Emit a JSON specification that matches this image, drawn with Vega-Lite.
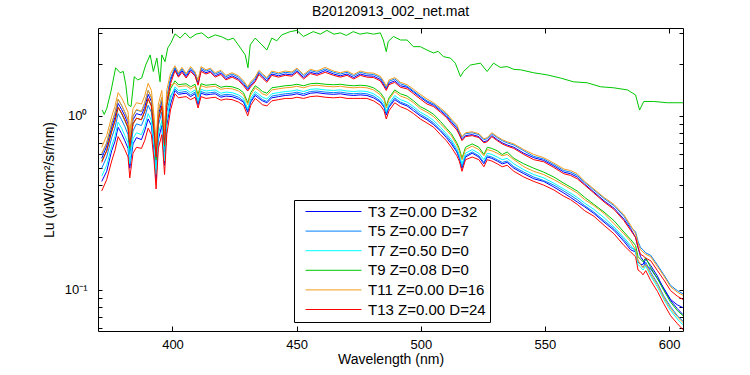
{
"$schema": "https://vega.github.io/schema/vega-lite/v6.json",
"width": 585,
"height": 303,
"autosize": {"type": "none"},
"padding": {"left": 98, "top": 28, "right": 67, "bottom": 44},
"background": "white",
"title": {"text": "B20120913_002_net.mat", "fontSize": 14, "fontWeight": "normal", "font": "Liberation Sans", "color": "black", "offset": 9},
"config": {
  "font": "Liberation Sans",
  "view": {"stroke": "black", "strokeWidth": 1},
  "axis": {"domain": false, "grid": false, "labelColor": "black", "titleColor": "black", "tickColor": "black", "labelFont": "Liberation Sans", "titleFont": "Liberation Sans", "labelFontSize": 13, "titleFontSize": 14, "titleFontWeight": "normal", "tickWidth": 1}
},
"resolve": {"scale": {"x": "independent", "y": "independent"}},
"layer": [
{
"data": {"values": [
{"k":"g0","w":371.7,"v":1.08},{"k":"g0","w":372.5,"v":1.02},{"k":"g0","w":373.5,"v":1.1},{"k":"g0","w":375.2,"v":1.38},{"k":"g0","w":377.1,"v":1.89},{"k":"g0","w":378.9,"v":1.77},{"k":"g0","w":380.2,"v":1.8},{"k":"g0","w":381.2,"v":1.51},{"k":"g0","w":382.1,"v":1.16},{"k":"g0","w":383.3,"v":1.13},{"k":"g0","w":384.6,"v":1.68},{"k":"g0","w":386,"v":1.61},{"k":"g0","w":387.6,"v":1.65},{"k":"g0","w":389.2,"v":1.96},{"k":"g0","w":391,"v":2.24},{"k":"g0","w":392.3,"v":1.8},{"k":"g0","w":393.7,"v":2.15},{"k":"g0","w":395,"v":1.57},{"k":"g0","w":395.7,"v":2.24},{"k":"g0","w":397,"v":2.05},{"k":"g0","w":398.1,"v":2.46},{"k":"g0","w":399.4,"v":2.63},{"k":"g0","w":401,"v":2.96},{"k":"g0","w":403.1,"v":2.8},{"k":"g0","w":405.1,"v":3.0},{"k":"g0","w":407.1,"v":2.8},{"k":"g0","w":409.5,"v":2.95},{"k":"g0","w":411.8,"v":3.0},{"k":"g0","w":414.4,"v":2.8},{"k":"g0","w":417.2,"v":2.92},{"k":"g0","w":419.8,"v":2.85},{"k":"g0","w":422.4,"v":2.73},{"k":"g0","w":424.5,"v":2.8},{"k":"g0","w":426.5,"v":2.56},{"k":"g0","w":429.3,"v":2.24},{"k":"g0","w":430.4,"v":1.89},{"k":"g0","w":431.3,"v":2.56},{"k":"g0","w":433.3,"v":2.8},{"k":"g0","w":436,"v":2.56},{"k":"g0","w":438,"v":2.39},{"k":"g0","w":440,"v":2.8},{"k":"g0","w":442,"v":2.7},{"k":"g0","w":444,"v":2.92},{"k":"g0","w":447.4,"v":3.05},{"k":"g0","w":450.1,"v":3.1},{"k":"g0","w":452.7,"v":2.86},{"k":"g0","w":456.7,"v":3.05},{"k":"g0","w":459.5,"v":2.95},{"k":"g0","w":462.2,"v":3.1},{"k":"g0","w":465,"v":2.95},{"k":"g0","w":467.6,"v":3.0},{"k":"g0","w":470,"v":2.9},{"k":"g0","w":472.8,"v":3.05},{"k":"g0","w":475.5,"v":2.95},{"k":"g0","w":478.3,"v":3.0},{"k":"g0","w":481,"v":2.95},{"k":"g0","w":483.7,"v":3.0},{"k":"g0","w":484.9,"v":2.73},{"k":"g0","w":486.1,"v":2.34},{"k":"g0","w":486.9,"v":2.68},{"k":"g0","w":489,"v":2.86},{"k":"g0","w":491.8,"v":2.73},{"k":"g0","w":494.5,"v":2.73},{"k":"g0","w":497,"v":2.5},{"k":"g0","w":499.8,"v":2.5},{"k":"g0","w":502.5,"v":2.39},{"k":"g0","w":505.1,"v":2.3},{"k":"g0","w":507,"v":2.35},{"k":"g0","w":509.1,"v":2.19},{"k":"g0","w":511.9,"v":2.15},{"k":"g0","w":513.9,"v":2.01},{"k":"g0","w":516,"v":1.68},{"k":"g0","w":517.2,"v":1.8},{"k":"g0","w":520,"v":1.96},{"k":"g0","w":524,"v":2.01},{"k":"g0","w":526.7,"v":1.8},{"k":"g0","w":529.3,"v":2.01},{"k":"g0","w":532,"v":1.9},{"k":"g0","w":534.8,"v":1.92},{"k":"g0","w":537.5,"v":1.85},{"k":"g0","w":540.2,"v":1.84},{"k":"g0","w":545.4,"v":1.77},{"k":"g0","w":550.9,"v":1.72},{"k":"g0","w":556.3,"v":1.65},{"k":"g0","w":561.5,"v":1.57},{"k":"g0","w":567,"v":1.55},{"k":"g0","w":572.4,"v":1.47},{"k":"g0","w":577.7,"v":1.45},{"k":"g0","w":583.2,"v":1.41},{"k":"g0","w":586.5,"v":1.32},{"k":"g0","w":588.1,"v":1.08},{"k":"g0","w":589.8,"v":1.21},{"k":"g0","w":593.8,"v":1.21},{"k":"g0","w":599.3,"v":1.19},{"k":"g0","w":605.6,"v":1.19},

{"k":"b2","w":371.5,"v":0.42},{"k":"b2","w":373.5,"v":0.48},{"k":"b2","w":375.5,"v":0.63},{"k":"b2","w":376.8,"v":0.71},{"k":"b2","w":378.1,"v":0.86},{"k":"b2","w":379.5,"v":0.79},{"k":"b2","w":380.8,"v":0.72},{"k":"b2","w":382.1,"v":0.65},{"k":"b2","w":382.8,"v":0.5},{"k":"b2","w":384.1,"v":0.69},{"k":"b2","w":385.5,"v":0.75},{"k":"b2","w":387.5,"v":0.73},{"k":"b2","w":388.8,"v":0.82},{"k":"b2","w":390.2,"v":0.96},{"k":"b2","w":391.5,"v":0.88},{"k":"b2","w":392.6,"v":0.62},{"k":"b2","w":393.4,"v":0.43},{"k":"b2","w":394.3,"v":0.73},{"k":"b2","w":395.7,"v":0.88},{"k":"b2","w":396.8,"v":0.52},{"k":"b2","w":397.7,"v":0.88},{"k":"b2","w":399.2,"v":1.17},
{"k":"b2","w":401,"v":1.4},{"k":"b2","w":402.4,"v":1.33},{"k":"b2","w":403.8,"v":1.34},{"k":"b2","w":405.5,"v":1.35},{"k":"b2","w":407.3,"v":1.29},{"k":"b2","w":409.1,"v":1.34},{"k":"b2","w":410.3,"v":1.16},{"k":"b2","w":411.5,"v":1.35},{"k":"b2","w":413.5,"v":1.32},{"k":"b2","w":415.3,"v":1.33},{"k":"b2","w":417.2,"v":1.34},{"k":"b2","w":419.5,"v":1.28},{"k":"b2","w":421.5,"v":1.3},{"k":"b2","w":424,"v":1.29},{"k":"b2","w":426.6,"v":1.25},{"k":"b2","w":428.6,"v":1.2},{"k":"b2","w":430.3,"v":1.05},{"k":"b2","w":431.5,"v":1.2},{"k":"b2","w":433.3,"v":1.31},{"k":"b2","w":434.8,"v":1.26},{"k":"b2","w":436.2,"v":1.22},{"k":"b2","w":438,"v":1.19},{"k":"b2","w":440,"v":1.27},{"k":"b2","w":442.7,"v":1.29},{"k":"b2","w":445.4,"v":1.31},{"k":"b2","w":448.1,"v":1.32},{"k":"b2","w":450.1,"v":1.34},{"k":"b2","w":452.8,"v":1.31},{"k":"b2","w":455.5,"v":1.35},{"k":"b2","w":458.2,"v":1.36},{"k":"b2","w":461.5,"v":1.34},{"k":"b2","w":464.9,"v":1.33},{"k":"b2","w":467.6,"v":1.34},{"k":"b2","w":470.3,"v":1.32},{"k":"b2","w":473,"v":1.31},{"k":"b2","w":475.6,"v":1.32},{"k":"b2","w":478.3,"v":1.31},
{"k":"b2","w":481,"v":1.27},{"k":"b2","w":483.7,"v":1.2},{"k":"b2","w":485.2,"v":1.12},{"k":"b2","w":486.1,"v":1.01},{"k":"b2","w":487.2,"v":1.12},{"k":"b2","w":489.5,"v":1.24},{"k":"b2","w":491.8,"v":1.18},{"k":"b2","w":494.5,"v":1.14},{"k":"b2","w":497.1,"v":1.07},{"k":"b2","w":499.8,"v":1.0},{"k":"b2","w":502.5,"v":0.95},{"k":"b2","w":505.2,"v":0.89},{"k":"b2","w":507.9,"v":0.82},{"k":"b2","w":510.3,"v":0.75},{"k":"b2","w":512.3,"v":0.69},{"k":"b2","w":514.5,"v":0.62},{"k":"b2","w":515.5,"v":0.57},{"k":"b2","w":516.6,"v":0.5},{"k":"b2","w":518,"v":0.58},{"k":"b2","w":520.7,"v":0.61},{"k":"b2","w":523.4,"v":0.58},{"k":"b2","w":525.4,"v":0.53},{"k":"b2","w":526.8,"v":0.58},{"k":"b2","w":528.6,"v":0.57},{"k":"b2","w":530.8,"v":0.55},{"k":"b2","w":532.8,"v":0.53},{"k":"b2","w":534.8,"v":0.54},{"k":"b2","w":537.5,"v":0.5},{"k":"b2","w":541.5,"v":0.465},{"k":"b2","w":545.5,"v":0.435},{"k":"b2","w":549.5,"v":0.42},{"k":"b2","w":553.6,"v":0.39},{"k":"b2","w":557.6,"v":0.36},{"k":"b2","w":560.3,"v":0.34},{"k":"b2","w":563,"v":0.32},{"k":"b2","w":566,"v":0.3},{"k":"b2","w":569.7,"v":0.275},{"k":"b2","w":573.8,"v":0.245},{"k":"b2","w":577.8,"v":0.22},{"k":"b2","w":581.8,"v":0.19},{"k":"b2","w":584.5,"v":0.17},
{"k":"b2","w":586.5,"v":0.165},{"k":"b2","w":587.5,"v":0.145},{"k":"b2","w":588.5,"v":0.14},{"k":"b2","w":589.5,"v":0.14},{"k":"b2","w":590.6,"v":0.15},{"k":"b2","w":592.6,"v":0.138},{"k":"b2","w":595.3,"v":0.12},{"k":"b2","w":597.9,"v":0.101},{"k":"b2","w":600.6,"v":0.087},{"k":"b2","w":603.3,"v":0.078},{"k":"b2","w":605.6,"v":0.072},

{"k":"b1","w":371.5,"v":0.57},{"k":"b1","w":373.5,"v":0.67},{"k":"b1","w":375.5,"v":0.86},{"k":"b1","w":376.8,"v":0.98},{"k":"b1","w":378.1,"v":1.18},{"k":"b1","w":379.5,"v":1.09},{"k":"b1","w":380.8,"v":1.0},{"k":"b1","w":382.1,"v":0.9},{"k":"b1","w":382.8,"v":0.7},{"k":"b1","w":384.1,"v":0.95},{"k":"b1","w":385.5,"v":1.03},{"k":"b1","w":387.5,"v":1.01},{"k":"b1","w":388.8,"v":1.12},{"k":"b1","w":390.2,"v":1.33},{"k":"b1","w":391.5,"v":1.21},{"k":"b1","w":392.6,"v":0.86},{"k":"b1","w":393.4,"v":0.61},{"k":"b1","w":394.3,"v":1.01},{"k":"b1","w":395.7,"v":1.21},{"k":"b1","w":396.8,"v":0.72},{"k":"b1","w":397.7,"v":1.22},{"k":"b1","w":399.2,"v":1.6},
{"k":"b1","w":401,"v":1.86},{"k":"b1","w":402.4,"v":1.7},{"k":"b1","w":403.8,"v":1.82},{"k":"b1","w":405.5,"v":1.68},{"k":"b1","w":407.3,"v":1.84},{"k":"b1","w":409.1,"v":1.72},{"k":"b1","w":410.3,"v":1.53},{"k":"b1","w":411.5,"v":1.84},{"k":"b1","w":413.5,"v":1.77},{"k":"b1","w":415.3,"v":1.81},{"k":"b1","w":417.2,"v":1.7},{"k":"b1","w":419.5,"v":1.76},{"k":"b1","w":421.5,"v":1.64},{"k":"b1","w":424,"v":1.7},{"k":"b1","w":426.6,"v":1.63},{"k":"b1","w":428.6,"v":1.52},{"k":"b1","w":430.3,"v":1.42},{"k":"b1","w":431.5,"v":1.5},{"k":"b1","w":433.3,"v":1.6},{"k":"b1","w":434.8,"v":1.76},{"k":"b1","w":436.2,"v":1.68},{"k":"b1","w":438,"v":1.59},{"k":"b1","w":440,"v":1.74},{"k":"b1","w":442.7,"v":1.7},{"k":"b1","w":445.4,"v":1.74},{"k":"b1","w":448.1,"v":1.72},{"k":"b1","w":450.1,"v":1.81},{"k":"b1","w":452.8,"v":1.66},{"k":"b1","w":455.5,"v":1.78},{"k":"b1","w":458.2,"v":1.74},{"k":"b1","w":461.5,"v":1.82},{"k":"b1","w":464.9,"v":1.74},{"k":"b1","w":467.6,"v":1.7},{"k":"b1","w":470.3,"v":1.74},{"k":"b1","w":473,"v":1.66},{"k":"b1","w":475.6,"v":1.74},{"k":"b1","w":478.3,"v":1.7},
{"k":"b1","w":481,"v":1.69},{"k":"b1","w":483.7,"v":1.62},{"k":"b1","w":485.2,"v":1.5},{"k":"b1","w":486.1,"v":1.43},{"k":"b1","w":487.2,"v":1.54},{"k":"b1","w":489.5,"v":1.59},{"k":"b1","w":491.8,"v":1.49},{"k":"b1","w":494.5,"v":1.46},{"k":"b1","w":497.1,"v":1.37},{"k":"b1","w":499.8,"v":1.28},{"k":"b1","w":502.5,"v":1.2},{"k":"b1","w":505.2,"v":1.15},{"k":"b1","w":507.9,"v":1.07},{"k":"b1","w":510.3,"v":1.0},{"k":"b1","w":512.3,"v":0.92},{"k":"b1","w":514.5,"v":0.85},{"k":"b1","w":515.5,"v":0.79},{"k":"b1","w":516.6,"v":0.73},{"k":"b1","w":518,"v":0.77},{"k":"b1","w":520.7,"v":0.78},{"k":"b1","w":523.4,"v":0.76},{"k":"b1","w":525.4,"v":0.71},{"k":"b1","w":526.8,"v":0.72},{"k":"b1","w":528.6,"v":0.77},{"k":"b1","w":530.8,"v":0.73},{"k":"b1","w":532.8,"v":0.7},{"k":"b1","w":534.8,"v":0.68},{"k":"b1","w":537.5,"v":0.66},{"k":"b1","w":541.5,"v":0.61},{"k":"b1","w":545.5,"v":0.575},{"k":"b1","w":549.5,"v":0.555},{"k":"b1","w":553.6,"v":0.515},{"k":"b1","w":557.6,"v":0.475},{"k":"b1","w":560.3,"v":0.465},{"k":"b1","w":563,"v":0.445},{"k":"b1","w":566,"v":0.405},{"k":"b1","w":569.7,"v":0.365},{"k":"b1","w":573.8,"v":0.325},{"k":"b1","w":577.8,"v":0.295},{"k":"b1","w":581.8,"v":0.255},{"k":"b1","w":584.5,"v":0.225},
{"k":"b1","w":586.5,"v":0.2},{"k":"b1","w":587.5,"v":0.175},{"k":"b1","w":588.5,"v":0.155},{"k":"b1","w":589.5,"v":0.148},{"k":"b1","w":590.6,"v":0.138},{"k":"b1","w":592.6,"v":0.132},{"k":"b1","w":595.3,"v":0.116},{"k":"b1","w":597.9,"v":0.102},{"k":"b1","w":600.6,"v":0.088},{"k":"b1","w":603.3,"v":0.082},{"k":"b1","w":605.6,"v":0.079},

{"k":"d2","w":371.5,"v":0.5},{"k":"d2","w":373.5,"v":0.58},{"k":"d2","w":375.5,"v":0.75},{"k":"d2","w":376.8,"v":0.85},{"k":"d2","w":378.1,"v":1.03},{"k":"d2","w":379.5,"v":0.95},{"k":"d2","w":380.8,"v":0.87},{"k":"d2","w":382.1,"v":0.78},{"k":"d2","w":382.8,"v":0.6},{"k":"d2","w":384.1,"v":0.82},{"k":"d2","w":385.5,"v":0.9},{"k":"d2","w":387.5,"v":0.88},{"k":"d2","w":388.8,"v":0.98},{"k":"d2","w":390.2,"v":1.15},{"k":"d2","w":391.5,"v":1.05},{"k":"d2","w":392.6,"v":0.74},{"k":"d2","w":393.4,"v":0.52},{"k":"d2","w":394.3,"v":0.88},{"k":"d2","w":395.7,"v":1.05},{"k":"d2","w":396.8,"v":0.62},{"k":"d2","w":397.7,"v":1.05},{"k":"d2","w":399.2,"v":1.3},
{"k":"d2","w":401,"v":1.43},{"k":"d2","w":402.4,"v":1.36},{"k":"d2","w":403.8,"v":1.37},{"k":"d2","w":405.5,"v":1.38},{"k":"d2","w":407.3,"v":1.32},{"k":"d2","w":409.1,"v":1.37},{"k":"d2","w":410.3,"v":1.18},{"k":"d2","w":411.5,"v":1.38},{"k":"d2","w":413.5,"v":1.35},{"k":"d2","w":415.3,"v":1.36},{"k":"d2","w":417.2,"v":1.37},{"k":"d2","w":419.5,"v":1.31},{"k":"d2","w":421.5,"v":1.33},{"k":"d2","w":424,"v":1.32},{"k":"d2","w":426.6,"v":1.28},{"k":"d2","w":428.6,"v":1.22},{"k":"d2","w":430.3,"v":1.07},{"k":"d2","w":431.5,"v":1.22},{"k":"d2","w":433.3,"v":1.34},{"k":"d2","w":434.8,"v":1.29},{"k":"d2","w":436.2,"v":1.24},{"k":"d2","w":438,"v":1.21},{"k":"d2","w":440,"v":1.3},{"k":"d2","w":442.7,"v":1.32},{"k":"d2","w":445.4,"v":1.34},{"k":"d2","w":448.1,"v":1.35},{"k":"d2","w":450.1,"v":1.37},{"k":"d2","w":452.8,"v":1.34},{"k":"d2","w":455.5,"v":1.38},{"k":"d2","w":458.2,"v":1.39},{"k":"d2","w":461.5,"v":1.37},{"k":"d2","w":464.9,"v":1.36},{"k":"d2","w":467.6,"v":1.37},{"k":"d2","w":470.3,"v":1.35},{"k":"d2","w":473,"v":1.34},{"k":"d2","w":475.6,"v":1.35},{"k":"d2","w":478.3,"v":1.34},
{"k":"d2","w":481,"v":1.3},{"k":"d2","w":483.7,"v":1.22},{"k":"d2","w":485.2,"v":1.14},{"k":"d2","w":486.1,"v":1.03},{"k":"d2","w":487.2,"v":1.14},{"k":"d2","w":489.5,"v":1.27},{"k":"d2","w":491.8,"v":1.2},{"k":"d2","w":494.5,"v":1.16},{"k":"d2","w":497.1,"v":1.1},{"k":"d2","w":499.8,"v":1.02},{"k":"d2","w":502.5,"v":0.97},{"k":"d2","w":505.2,"v":0.91},{"k":"d2","w":507.9,"v":0.83},{"k":"d2","w":510.3,"v":0.77},{"k":"d2","w":512.3,"v":0.71},{"k":"d2","w":514.5,"v":0.63},{"k":"d2","w":515.5,"v":0.58},{"k":"d2","w":516.6,"v":0.51},{"k":"d2","w":518,"v":0.59},{"k":"d2","w":520.7,"v":0.62},{"k":"d2","w":523.4,"v":0.59},{"k":"d2","w":525.4,"v":0.54},{"k":"d2","w":526.8,"v":0.59},{"k":"d2","w":528.6,"v":0.58},{"k":"d2","w":530.8,"v":0.56},{"k":"d2","w":532.8,"v":0.54},{"k":"d2","w":534.8,"v":0.55},{"k":"d2","w":537.5,"v":0.51},{"k":"d2","w":541.5,"v":0.475},{"k":"d2","w":545.5,"v":0.445},{"k":"d2","w":549.5,"v":0.425},{"k":"d2","w":553.6,"v":0.4},{"k":"d2","w":557.6,"v":0.37},{"k":"d2","w":560.3,"v":0.35},{"k":"d2","w":563,"v":0.33},{"k":"d2","w":566,"v":0.305},{"k":"d2","w":569.7,"v":0.28},{"k":"d2","w":573.8,"v":0.25},{"k":"d2","w":577.8,"v":0.225},{"k":"d2","w":581.8,"v":0.195},{"k":"d2","w":584.5,"v":0.175},
{"k":"d2","w":586.5,"v":0.17},{"k":"d2","w":587.5,"v":0.145},{"k":"d2","w":588.5,"v":0.14},{"k":"d2","w":589.5,"v":0.135},{"k":"d2","w":590.6,"v":0.144},{"k":"d2","w":592.6,"v":0.126},{"k":"d2","w":595.3,"v":0.109},{"k":"d2","w":597.9,"v":0.092},{"k":"d2","w":600.6,"v":0.08},{"k":"d2","w":603.3,"v":0.071},{"k":"d2","w":605.6,"v":0.066},

{"k":"d1","w":371.5,"v":0.6},{"k":"d1","w":373.5,"v":0.7},{"k":"d1","w":375.5,"v":0.9},{"k":"d1","w":376.8,"v":1.03},{"k":"d1","w":378.1,"v":1.24},{"k":"d1","w":379.5,"v":1.15},{"k":"d1","w":380.8,"v":1.05},{"k":"d1","w":382.1,"v":0.95},{"k":"d1","w":382.8,"v":0.74},{"k":"d1","w":384.1,"v":1.0},{"k":"d1","w":385.5,"v":1.08},{"k":"d1","w":387.5,"v":1.06},{"k":"d1","w":388.8,"v":1.18},{"k":"d1","w":390.2,"v":1.4},{"k":"d1","w":391.5,"v":1.27},{"k":"d1","w":392.6,"v":0.9},{"k":"d1","w":393.4,"v":0.64},{"k":"d1","w":394.3,"v":1.06},{"k":"d1","w":395.7,"v":1.27},{"k":"d1","w":396.8,"v":0.76},{"k":"d1","w":397.7,"v":1.28},{"k":"d1","w":399.2,"v":1.65},
{"k":"d1","w":401,"v":1.9},{"k":"d1","w":402.4,"v":1.74},{"k":"d1","w":403.8,"v":1.86},{"k":"d1","w":405.5,"v":1.72},{"k":"d1","w":407.3,"v":1.88},{"k":"d1","w":409.1,"v":1.76},{"k":"d1","w":410.3,"v":1.57},{"k":"d1","w":411.5,"v":1.88},{"k":"d1","w":413.5,"v":1.81},{"k":"d1","w":415.3,"v":1.85},{"k":"d1","w":417.2,"v":1.74},{"k":"d1","w":419.5,"v":1.8},{"k":"d1","w":421.5,"v":1.68},{"k":"d1","w":424,"v":1.74},{"k":"d1","w":426.6,"v":1.67},{"k":"d1","w":428.6,"v":1.56},{"k":"d1","w":430.3,"v":1.44},{"k":"d1","w":431.5,"v":1.54},{"k":"d1","w":433.3,"v":1.64},{"k":"d1","w":434.8,"v":1.8},{"k":"d1","w":436.2,"v":1.72},{"k":"d1","w":438,"v":1.63},{"k":"d1","w":440,"v":1.78},{"k":"d1","w":442.7,"v":1.74},{"k":"d1","w":445.4,"v":1.78},{"k":"d1","w":448.1,"v":1.76},{"k":"d1","w":450.1,"v":1.85},{"k":"d1","w":452.8,"v":1.7},{"k":"d1","w":455.5,"v":1.82},{"k":"d1","w":458.2,"v":1.78},{"k":"d1","w":461.5,"v":1.86},{"k":"d1","w":464.9,"v":1.78},{"k":"d1","w":467.6,"v":1.74},{"k":"d1","w":470.3,"v":1.78},{"k":"d1","w":473,"v":1.7},{"k":"d1","w":475.6,"v":1.78},{"k":"d1","w":478.3,"v":1.74},
{"k":"d1","w":481,"v":1.73},{"k":"d1","w":483.7,"v":1.66},{"k":"d1","w":485.2,"v":1.54},{"k":"d1","w":486.1,"v":1.45},{"k":"d1","w":487.2,"v":1.58},{"k":"d1","w":489.5,"v":1.63},{"k":"d1","w":491.8,"v":1.53},{"k":"d1","w":494.5,"v":1.48},{"k":"d1","w":497.1,"v":1.39},{"k":"d1","w":499.8,"v":1.3},{"k":"d1","w":502.5,"v":1.22},{"k":"d1","w":505.2,"v":1.17},{"k":"d1","w":507.9,"v":1.09},{"k":"d1","w":510.3,"v":1.02},{"k":"d1","w":512.3,"v":0.94},{"k":"d1","w":514.5,"v":0.87},{"k":"d1","w":515.5,"v":0.81},{"k":"d1","w":516.6,"v":0.75},{"k":"d1","w":518,"v":0.79},{"k":"d1","w":520.7,"v":0.8},{"k":"d1","w":523.4,"v":0.78},{"k":"d1","w":525.4,"v":0.73},{"k":"d1","w":526.8,"v":0.74},{"k":"d1","w":528.6,"v":0.79},{"k":"d1","w":530.8,"v":0.75},{"k":"d1","w":532.8,"v":0.72},{"k":"d1","w":534.8,"v":0.7},{"k":"d1","w":537.5,"v":0.68},{"k":"d1","w":541.5,"v":0.63},{"k":"d1","w":545.5,"v":0.585},{"k":"d1","w":549.5,"v":0.565},{"k":"d1","w":553.6,"v":0.525},{"k":"d1","w":557.6,"v":0.485},{"k":"d1","w":560.3,"v":0.475},{"k":"d1","w":563,"v":0.455},{"k":"d1","w":566,"v":0.415},{"k":"d1","w":569.7,"v":0.375},{"k":"d1","w":573.8,"v":0.335},{"k":"d1","w":577.8,"v":0.305},{"k":"d1","w":581.8,"v":0.265},{"k":"d1","w":584.5,"v":0.23},
{"k":"d1","w":586.5,"v":0.215},{"k":"d1","w":587.5,"v":0.19},{"k":"d1","w":588.5,"v":0.175},{"k":"d1","w":589.5,"v":0.17},{"k":"d1","w":590.6,"v":0.163},{"k":"d1","w":592.6,"v":0.158},{"k":"d1","w":595.3,"v":0.139},{"k":"d1","w":597.9,"v":0.122},{"k":"d1","w":600.6,"v":0.106},{"k":"d1","w":603.3,"v":0.099},{"k":"d1","w":605.6,"v":0.095},

{"k":"c2","w":371.5,"v":0.45},{"k":"c2","w":373.5,"v":0.52},{"k":"c2","w":375.5,"v":0.67},{"k":"c2","w":376.8,"v":0.76},{"k":"c2","w":378.1,"v":0.92},{"k":"c2","w":379.5,"v":0.85},{"k":"c2","w":380.8,"v":0.77},{"k":"c2","w":382.1,"v":0.7},{"k":"c2","w":382.8,"v":0.53},{"k":"c2","w":384.1,"v":0.74},{"k":"c2","w":385.5,"v":0.8},{"k":"c2","w":387.5,"v":0.78},{"k":"c2","w":388.8,"v":0.87},{"k":"c2","w":390.2,"v":1.03},{"k":"c2","w":391.5,"v":0.94},{"k":"c2","w":392.6,"v":0.66},{"k":"c2","w":393.4,"v":0.46},{"k":"c2","w":394.3,"v":0.78},{"k":"c2","w":395.7,"v":0.94},{"k":"c2","w":396.8,"v":0.55},{"k":"c2","w":397.7,"v":0.94},{"k":"c2","w":399.2,"v":1.25},
{"k":"c2","w":401,"v":1.47},{"k":"c2","w":402.4,"v":1.4},{"k":"c2","w":403.8,"v":1.41},{"k":"c2","w":405.5,"v":1.42},{"k":"c2","w":407.3,"v":1.36},{"k":"c2","w":409.1,"v":1.41},{"k":"c2","w":410.3,"v":1.22},{"k":"c2","w":411.5,"v":1.42},{"k":"c2","w":413.5,"v":1.39},{"k":"c2","w":415.3,"v":1.4},{"k":"c2","w":417.2,"v":1.41},{"k":"c2","w":419.5,"v":1.35},{"k":"c2","w":421.5,"v":1.37},{"k":"c2","w":424,"v":1.36},{"k":"c2","w":426.6,"v":1.32},{"k":"c2","w":428.6,"v":1.26},{"k":"c2","w":430.3,"v":1.1},{"k":"c2","w":431.5,"v":1.26},{"k":"c2","w":433.3,"v":1.38},{"k":"c2","w":434.8,"v":1.33},{"k":"c2","w":436.2,"v":1.28},{"k":"c2","w":438,"v":1.25},{"k":"c2","w":440,"v":1.34},{"k":"c2","w":442.7,"v":1.36},{"k":"c2","w":445.4,"v":1.38},{"k":"c2","w":448.1,"v":1.39},{"k":"c2","w":450.1,"v":1.41},{"k":"c2","w":452.8,"v":1.38},{"k":"c2","w":455.5,"v":1.42},{"k":"c2","w":458.2,"v":1.43},{"k":"c2","w":461.5,"v":1.41},{"k":"c2","w":464.9,"v":1.4},{"k":"c2","w":467.6,"v":1.41},{"k":"c2","w":470.3,"v":1.39},{"k":"c2","w":473,"v":1.38},{"k":"c2","w":475.6,"v":1.39},{"k":"c2","w":478.3,"v":1.38},
{"k":"c2","w":481,"v":1.34},{"k":"c2","w":483.7,"v":1.26},{"k":"c2","w":485.2,"v":1.18},{"k":"c2","w":486.1,"v":1.06},{"k":"c2","w":487.2,"v":1.18},{"k":"c2","w":489.5,"v":1.31},{"k":"c2","w":491.8,"v":1.24},{"k":"c2","w":494.5,"v":1.2},{"k":"c2","w":497.1,"v":1.13},{"k":"c2","w":499.8,"v":1.05},{"k":"c2","w":502.5,"v":1.0},{"k":"c2","w":505.2,"v":0.94},{"k":"c2","w":507.9,"v":0.86},{"k":"c2","w":510.3,"v":0.79},{"k":"c2","w":512.3,"v":0.73},{"k":"c2","w":514.5,"v":0.65},{"k":"c2","w":515.5,"v":0.6},{"k":"c2","w":516.6,"v":0.53},{"k":"c2","w":518,"v":0.61},{"k":"c2","w":520.7,"v":0.64},{"k":"c2","w":523.4,"v":0.61},{"k":"c2","w":525.4,"v":0.56},{"k":"c2","w":526.8,"v":0.61},{"k":"c2","w":528.6,"v":0.6},{"k":"c2","w":530.8,"v":0.58},{"k":"c2","w":532.8,"v":0.56},{"k":"c2","w":534.8,"v":0.57},{"k":"c2","w":537.5,"v":0.53},{"k":"c2","w":541.5,"v":0.49},{"k":"c2","w":545.5,"v":0.46},{"k":"c2","w":549.5,"v":0.44},{"k":"c2","w":553.6,"v":0.41},{"k":"c2","w":557.6,"v":0.38},{"k":"c2","w":560.3,"v":0.36},{"k":"c2","w":563,"v":0.34},{"k":"c2","w":566,"v":0.315},{"k":"c2","w":569.7,"v":0.29},{"k":"c2","w":573.8,"v":0.26},{"k":"c2","w":577.8,"v":0.23},{"k":"c2","w":581.8,"v":0.2},{"k":"c2","w":584.5,"v":0.18},
{"k":"c2","w":586.5,"v":0.165},{"k":"c2","w":587.5,"v":0.14},{"k":"c2","w":588.5,"v":0.135},{"k":"c2","w":589.5,"v":0.13},{"k":"c2","w":590.6,"v":0.137},{"k":"c2","w":592.6,"v":0.12},{"k":"c2","w":595.3,"v":0.104},{"k":"c2","w":597.9,"v":0.088},{"k":"c2","w":600.6,"v":0.076},{"k":"c2","w":603.3,"v":0.068},{"k":"c2","w":605.6,"v":0.063},

{"k":"g2","w":371.5,"v":0.55},{"k":"g2","w":373.5,"v":0.63},{"k":"g2","w":375.5,"v":0.82},{"k":"g2","w":376.8,"v":0.93},{"k":"g2","w":378.1,"v":1.12},{"k":"g2","w":379.5,"v":1.03},{"k":"g2","w":380.8,"v":0.94},{"k":"g2","w":382.1,"v":0.85},{"k":"g2","w":382.8,"v":0.65},{"k":"g2","w":384.1,"v":0.9},{"k":"g2","w":385.5,"v":0.97},{"k":"g2","w":387.5,"v":0.95},{"k":"g2","w":388.8,"v":1.06},{"k":"g2","w":390.2,"v":1.25},{"k":"g2","w":391.5,"v":1.14},{"k":"g2","w":392.6,"v":0.81},{"k":"g2","w":393.4,"v":0.56},{"k":"g2","w":394.3,"v":0.95},{"k":"g2","w":395.7,"v":1.14},{"k":"g2","w":396.8,"v":0.67},{"k":"g2","w":397.7,"v":1.14},{"k":"g2","w":399.2,"v":1.43},
{"k":"g2","w":401,"v":1.59},{"k":"g2","w":402.4,"v":1.51},{"k":"g2","w":403.8,"v":1.52},{"k":"g2","w":405.5,"v":1.53},{"k":"g2","w":407.3,"v":1.47},{"k":"g2","w":409.1,"v":1.52},{"k":"g2","w":410.3,"v":1.32},{"k":"g2","w":411.5,"v":1.53},{"k":"g2","w":413.5,"v":1.5},{"k":"g2","w":415.3,"v":1.51},{"k":"g2","w":417.2,"v":1.52},{"k":"g2","w":419.5,"v":1.46},{"k":"g2","w":421.5,"v":1.48},{"k":"g2","w":424,"v":1.47},{"k":"g2","w":426.6,"v":1.43},{"k":"g2","w":428.6,"v":1.36},{"k":"g2","w":430.3,"v":1.19},{"k":"g2","w":431.5,"v":1.36},{"k":"g2","w":433.3,"v":1.49},{"k":"g2","w":434.8,"v":1.44},{"k":"g2","w":436.2,"v":1.38},{"k":"g2","w":438,"v":1.35},{"k":"g2","w":440,"v":1.45},{"k":"g2","w":442.7,"v":1.47},{"k":"g2","w":445.4,"v":1.49},{"k":"g2","w":448.1,"v":1.5},{"k":"g2","w":450.1,"v":1.52},{"k":"g2","w":452.8,"v":1.49},{"k":"g2","w":455.5,"v":1.53},{"k":"g2","w":458.2,"v":1.54},{"k":"g2","w":461.5,"v":1.52},{"k":"g2","w":464.9,"v":1.51},{"k":"g2","w":467.6,"v":1.52},{"k":"g2","w":470.3,"v":1.5},{"k":"g2","w":473,"v":1.49},{"k":"g2","w":475.6,"v":1.5},{"k":"g2","w":478.3,"v":1.49},
{"k":"g2","w":481,"v":1.45},{"k":"g2","w":483.7,"v":1.36},{"k":"g2","w":485.2,"v":1.27},{"k":"g2","w":486.1,"v":1.14},{"k":"g2","w":487.2,"v":1.27},{"k":"g2","w":489.5,"v":1.41},{"k":"g2","w":491.8,"v":1.34},{"k":"g2","w":494.5,"v":1.3},{"k":"g2","w":497.1,"v":1.22},{"k":"g2","w":499.8,"v":1.13},{"k":"g2","w":502.5,"v":1.08},{"k":"g2","w":505.2,"v":1.02},{"k":"g2","w":507.9,"v":0.93},{"k":"g2","w":510.3,"v":0.85},{"k":"g2","w":512.3,"v":0.79},{"k":"g2","w":514.5,"v":0.7},{"k":"g2","w":515.5,"v":0.65},{"k":"g2","w":516.6,"v":0.57},{"k":"g2","w":518,"v":0.66},{"k":"g2","w":520.7,"v":0.69},{"k":"g2","w":523.4,"v":0.66},{"k":"g2","w":525.4,"v":0.6},{"k":"g2","w":526.8,"v":0.66},{"k":"g2","w":528.6,"v":0.65},{"k":"g2","w":530.8,"v":0.63},{"k":"g2","w":532.8,"v":0.6},{"k":"g2","w":534.8,"v":0.62},{"k":"g2","w":537.5,"v":0.57},{"k":"g2","w":541.5,"v":0.53},{"k":"g2","w":545.5,"v":0.5},{"k":"g2","w":549.5,"v":0.475},{"k":"g2","w":553.6,"v":0.445},{"k":"g2","w":557.6,"v":0.41},{"k":"g2","w":560.3,"v":0.39},{"k":"g2","w":563,"v":0.37},{"k":"g2","w":566,"v":0.34},{"k":"g2","w":569.7,"v":0.31},{"k":"g2","w":573.8,"v":0.28},{"k":"g2","w":577.8,"v":0.25},{"k":"g2","w":581.8,"v":0.215},{"k":"g2","w":584.5,"v":0.195},
{"k":"g2","w":586.5,"v":0.18},{"k":"g2","w":587.5,"v":0.155},{"k":"g2","w":588.5,"v":0.15},{"k":"g2","w":589.5,"v":0.145},{"k":"g2","w":590.6,"v":0.153},{"k":"g2","w":592.6,"v":0.134},{"k":"g2","w":595.3,"v":0.116},{"k":"g2","w":597.9,"v":0.099},{"k":"g2","w":600.6,"v":0.085},{"k":"g2","w":603.3,"v":0.076},{"k":"g2","w":605.6,"v":0.071},

{"k":"o2","w":371.5,"v":0.61},{"k":"o2","w":373.5,"v":0.7},{"k":"o2","w":375.5,"v":0.91},{"k":"o2","w":376.8,"v":1.04},{"k":"o2","w":378.1,"v":1.25},{"k":"o2","w":379.5,"v":1.15},{"k":"o2","w":380.8,"v":1.05},{"k":"o2","w":382.1,"v":0.95},{"k":"o2","w":382.8,"v":0.73},{"k":"o2","w":384.1,"v":1.0},{"k":"o2","w":385.5,"v":1.09},{"k":"o2","w":387.5,"v":1.06},{"k":"o2","w":388.8,"v":1.19},{"k":"o2","w":390.2,"v":1.4},{"k":"o2","w":391.5,"v":1.28},{"k":"o2","w":392.6,"v":0.9},{"k":"o2","w":393.4,"v":0.63},{"k":"o2","w":394.3,"v":1.06},{"k":"o2","w":395.7,"v":1.28},{"k":"o2","w":396.8,"v":0.75},{"k":"o2","w":397.7,"v":1.28},{"k":"o2","w":399.2,"v":1.5},
{"k":"o2","w":401,"v":1.54},{"k":"o2","w":402.4,"v":1.47},{"k":"o2","w":403.8,"v":1.48},{"k":"o2","w":405.5,"v":1.49},{"k":"o2","w":407.3,"v":1.43},{"k":"o2","w":409.1,"v":1.48},{"k":"o2","w":410.3,"v":1.28},{"k":"o2","w":411.5,"v":1.49},{"k":"o2","w":413.5,"v":1.46},{"k":"o2","w":415.3,"v":1.47},{"k":"o2","w":417.2,"v":1.48},{"k":"o2","w":419.5,"v":1.42},{"k":"o2","w":421.5,"v":1.44},{"k":"o2","w":424,"v":1.43},{"k":"o2","w":426.6,"v":1.39},{"k":"o2","w":428.6,"v":1.32},{"k":"o2","w":430.3,"v":1.16},{"k":"o2","w":431.5,"v":1.32},{"k":"o2","w":433.3,"v":1.45},{"k":"o2","w":434.8,"v":1.4},{"k":"o2","w":436.2,"v":1.34},{"k":"o2","w":438,"v":1.31},{"k":"o2","w":440,"v":1.41},{"k":"o2","w":442.7,"v":1.43},{"k":"o2","w":445.4,"v":1.45},{"k":"o2","w":448.1,"v":1.46},{"k":"o2","w":450.1,"v":1.48},{"k":"o2","w":452.8,"v":1.45},{"k":"o2","w":455.5,"v":1.49},{"k":"o2","w":458.2,"v":1.5},{"k":"o2","w":461.5,"v":1.48},{"k":"o2","w":464.9,"v":1.47},{"k":"o2","w":467.6,"v":1.48},{"k":"o2","w":470.3,"v":1.46},{"k":"o2","w":473,"v":1.45},{"k":"o2","w":475.6,"v":1.46},{"k":"o2","w":478.3,"v":1.45},
{"k":"o2","w":481,"v":1.41},{"k":"o2","w":483.7,"v":1.32},{"k":"o2","w":485.2,"v":1.24},{"k":"o2","w":486.1,"v":1.11},{"k":"o2","w":487.2,"v":1.24},{"k":"o2","w":489.5,"v":1.38},{"k":"o2","w":491.8,"v":1.3},{"k":"o2","w":494.5,"v":1.26},{"k":"o2","w":497.1,"v":1.19},{"k":"o2","w":499.8,"v":1.1},{"k":"o2","w":502.5,"v":1.05},{"k":"o2","w":505.2,"v":0.99},{"k":"o2","w":507.9,"v":0.9},{"k":"o2","w":510.3,"v":0.83},{"k":"o2","w":512.3,"v":0.77},{"k":"o2","w":514.5,"v":0.68},{"k":"o2","w":515.5,"v":0.63},{"k":"o2","w":516.6,"v":0.56},{"k":"o2","w":518,"v":0.64},{"k":"o2","w":520.7,"v":0.67},{"k":"o2","w":523.4,"v":0.64},{"k":"o2","w":525.4,"v":0.59},{"k":"o2","w":526.8,"v":0.64},{"k":"o2","w":528.6,"v":0.63},{"k":"o2","w":530.8,"v":0.61},{"k":"o2","w":532.8,"v":0.59},{"k":"o2","w":534.8,"v":0.6},{"k":"o2","w":537.5,"v":0.56},{"k":"o2","w":541.5,"v":0.51},{"k":"o2","w":545.5,"v":0.48},{"k":"o2","w":549.5,"v":0.46},{"k":"o2","w":553.6,"v":0.43},{"k":"o2","w":557.6,"v":0.4},{"k":"o2","w":560.3,"v":0.38},{"k":"o2","w":563,"v":0.36},{"k":"o2","w":566,"v":0.33},{"k":"o2","w":569.7,"v":0.305},{"k":"o2","w":573.8,"v":0.275},{"k":"o2","w":577.8,"v":0.24},{"k":"o2","w":581.8,"v":0.21},{"k":"o2","w":584.5,"v":0.19},
{"k":"o2","w":586.5,"v":0.17},{"k":"o2","w":587.5,"v":0.148},{"k":"o2","w":588.5,"v":0.14},{"k":"o2","w":589.5,"v":0.134},{"k":"o2","w":590.6,"v":0.14},{"k":"o2","w":592.6,"v":0.123},{"k":"o2","w":595.3,"v":0.107},{"k":"o2","w":597.9,"v":0.09},{"k":"o2","w":600.6,"v":0.078},{"k":"o2","w":603.3,"v":0.07},{"k":"o2","w":605.6,"v":0.065},

{"k":"o1","w":371.5,"v":0.66},{"k":"o1","w":373.5,"v":0.77},{"k":"o1","w":375.5,"v":0.99},{"k":"o1","w":376.8,"v":1.13},{"k":"o1","w":378.1,"v":1.36},{"k":"o1","w":379.5,"v":1.27},{"k":"o1","w":380.8,"v":1.16},{"k":"o1","w":382.1,"v":1.05},{"k":"o1","w":382.8,"v":0.81},{"k":"o1","w":384.1,"v":1.1},{"k":"o1","w":385.5,"v":1.19},{"k":"o1","w":387.5,"v":1.17},{"k":"o1","w":388.8,"v":1.3},{"k":"o1","w":390.2,"v":1.54},{"k":"o1","w":391.5,"v":1.4},{"k":"o1","w":392.6,"v":0.99},{"k":"o1","w":393.4,"v":0.7},{"k":"o1","w":394.3,"v":1.17},{"k":"o1","w":395.7,"v":1.4},{"k":"o1","w":396.8,"v":0.84},{"k":"o1","w":397.7,"v":1.41},{"k":"o1","w":399.2,"v":1.75},
{"k":"o1","w":401,"v":1.94},{"k":"o1","w":402.4,"v":1.77},{"k":"o1","w":403.8,"v":1.9},{"k":"o1","w":405.5,"v":1.75},{"k":"o1","w":407.3,"v":1.92},{"k":"o1","w":409.1,"v":1.79},{"k":"o1","w":410.3,"v":1.6},{"k":"o1","w":411.5,"v":1.92},{"k":"o1","w":413.5,"v":1.84},{"k":"o1","w":415.3,"v":1.88},{"k":"o1","w":417.2,"v":1.77},{"k":"o1","w":419.5,"v":1.83},{"k":"o1","w":421.5,"v":1.71},{"k":"o1","w":424,"v":1.77},{"k":"o1","w":426.6,"v":1.7},{"k":"o1","w":428.6,"v":1.59},{"k":"o1","w":430.3,"v":1.47},{"k":"o1","w":431.5,"v":1.57},{"k":"o1","w":433.3,"v":1.67},{"k":"o1","w":434.8,"v":1.83},{"k":"o1","w":436.2,"v":1.75},{"k":"o1","w":438,"v":1.66},{"k":"o1","w":440,"v":1.81},{"k":"o1","w":442.7,"v":1.77},{"k":"o1","w":445.4,"v":1.81},{"k":"o1","w":448.1,"v":1.79},{"k":"o1","w":450.1,"v":1.88},{"k":"o1","w":452.8,"v":1.73},{"k":"o1","w":455.5,"v":1.85},{"k":"o1","w":458.2,"v":1.81},{"k":"o1","w":461.5,"v":1.9},{"k":"o1","w":464.9,"v":1.81},{"k":"o1","w":467.6,"v":1.77},{"k":"o1","w":470.3,"v":1.81},{"k":"o1","w":473,"v":1.73},{"k":"o1","w":475.6,"v":1.81},{"k":"o1","w":478.3,"v":1.77},
{"k":"o1","w":481,"v":1.76},{"k":"o1","w":483.7,"v":1.69},{"k":"o1","w":485.2,"v":1.57},{"k":"o1","w":486.1,"v":1.48},{"k":"o1","w":487.2,"v":1.61},{"k":"o1","w":489.5,"v":1.66},{"k":"o1","w":491.8,"v":1.56},{"k":"o1","w":494.5,"v":1.51},{"k":"o1","w":497.1,"v":1.42},{"k":"o1","w":499.8,"v":1.33},{"k":"o1","w":502.5,"v":1.25},{"k":"o1","w":505.2,"v":1.19},{"k":"o1","w":507.9,"v":1.11},{"k":"o1","w":510.3,"v":1.04},{"k":"o1","w":512.3,"v":0.96},{"k":"o1","w":514.5,"v":0.89},{"k":"o1","w":515.5,"v":0.82},{"k":"o1","w":516.6,"v":0.76},{"k":"o1","w":518,"v":0.8},{"k":"o1","w":520.7,"v":0.81},{"k":"o1","w":523.4,"v":0.79},{"k":"o1","w":525.4,"v":0.74},{"k":"o1","w":526.8,"v":0.75},{"k":"o1","w":528.6,"v":0.8},{"k":"o1","w":530.8,"v":0.76},{"k":"o1","w":532.8,"v":0.73},{"k":"o1","w":534.8,"v":0.71},{"k":"o1","w":537.5,"v":0.69},{"k":"o1","w":541.5,"v":0.64},{"k":"o1","w":545.5,"v":0.6},{"k":"o1","w":549.5,"v":0.575},{"k":"o1","w":553.6,"v":0.535},{"k":"o1","w":557.6,"v":0.495},{"k":"o1","w":560.3,"v":0.485},{"k":"o1","w":563,"v":0.465},{"k":"o1","w":566,"v":0.42},{"k":"o1","w":569.7,"v":0.38},{"k":"o1","w":573.8,"v":0.34},{"k":"o1","w":577.8,"v":0.31},{"k":"o1","w":581.8,"v":0.27},{"k":"o1","w":584.5,"v":0.235},
{"k":"o1","w":586.5,"v":0.21},{"k":"o1","w":587.5,"v":0.185},{"k":"o1","w":588.5,"v":0.17},{"k":"o1","w":589.5,"v":0.165},{"k":"o1","w":590.6,"v":0.16},{"k":"o1","w":592.6,"v":0.155},{"k":"o1","w":595.3,"v":0.136},{"k":"o1","w":597.9,"v":0.12},{"k":"o1","w":600.6,"v":0.104},{"k":"o1","w":603.3,"v":0.097},{"k":"o1","w":605.6,"v":0.093},

{"k":"r2","w":371.5,"v":0.37},{"k":"r2","w":373.5,"v":0.43},{"k":"r2","w":375.5,"v":0.55},{"k":"r2","w":376.8,"v":0.63},{"k":"r2","w":378.1,"v":0.76},{"k":"r2","w":379.5,"v":0.7},{"k":"r2","w":380.8,"v":0.64},{"k":"r2","w":382.1,"v":0.58},{"k":"r2","w":382.8,"v":0.44},{"k":"r2","w":384.1,"v":0.61},{"k":"r2","w":385.5,"v":0.66},{"k":"r2","w":387.5,"v":0.65},{"k":"r2","w":388.8,"v":0.72},{"k":"r2","w":390.2,"v":0.85},{"k":"r2","w":391.5,"v":0.78},{"k":"r2","w":392.6,"v":0.55},{"k":"r2","w":393.4,"v":0.38},{"k":"r2","w":394.3,"v":0.65},{"k":"r2","w":395.7,"v":0.78},{"k":"r2","w":396.8,"v":0.46},{"k":"r2","w":397.7,"v":0.78},{"k":"r2","w":399.2,"v":1.08},
{"k":"r2","w":401,"v":1.34},{"k":"r2","w":402.4,"v":1.27},{"k":"r2","w":403.8,"v":1.28},{"k":"r2","w":405.5,"v":1.29},{"k":"r2","w":407.3,"v":1.24},{"k":"r2","w":409.1,"v":1.28},{"k":"r2","w":410.3,"v":1.11},{"k":"r2","w":411.5,"v":1.29},{"k":"r2","w":413.5,"v":1.26},{"k":"r2","w":415.3,"v":1.27},{"k":"r2","w":417.2,"v":1.28},{"k":"r2","w":419.5,"v":1.23},{"k":"r2","w":421.5,"v":1.25},{"k":"r2","w":424,"v":1.24},{"k":"r2","w":426.6,"v":1.2},{"k":"r2","w":428.6,"v":1.15},{"k":"r2","w":430.3,"v":1.0},{"k":"r2","w":431.5,"v":1.15},{"k":"r2","w":433.3,"v":1.26},{"k":"r2","w":434.8,"v":1.21},{"k":"r2","w":436.2,"v":1.16},{"k":"r2","w":438,"v":1.14},{"k":"r2","w":440,"v":1.22},{"k":"r2","w":442.7,"v":1.24},{"k":"r2","w":445.4,"v":1.26},{"k":"r2","w":448.1,"v":1.26},{"k":"r2","w":450.1,"v":1.28},{"k":"r2","w":452.8,"v":1.26},{"k":"r2","w":455.5,"v":1.29},{"k":"r2","w":458.2,"v":1.3},{"k":"r2","w":461.5,"v":1.28},{"k":"r2","w":464.9,"v":1.27},{"k":"r2","w":467.6,"v":1.28},{"k":"r2","w":470.3,"v":1.26},{"k":"r2","w":473,"v":1.26},{"k":"r2","w":475.6,"v":1.26},{"k":"r2","w":478.3,"v":1.26},
{"k":"r2","w":481,"v":1.22},{"k":"r2","w":483.7,"v":1.15},{"k":"r2","w":485.2,"v":1.07},{"k":"r2","w":486.1,"v":0.96},{"k":"r2","w":487.2,"v":1.07},{"k":"r2","w":489.5,"v":1.19},{"k":"r2","w":491.8,"v":1.13},{"k":"r2","w":494.5,"v":1.09},{"k":"r2","w":497.1,"v":1.03},{"k":"r2","w":499.8,"v":0.96},{"k":"r2","w":502.5,"v":0.91},{"k":"r2","w":505.2,"v":0.86},{"k":"r2","w":507.9,"v":0.78},{"k":"r2","w":510.3,"v":0.72},{"k":"r2","w":512.3,"v":0.66},{"k":"r2","w":514.5,"v":0.59},{"k":"r2","w":515.5,"v":0.55},{"k":"r2","w":516.6,"v":0.48},{"k":"r2","w":518,"v":0.56},{"k":"r2","w":520.7,"v":0.58},{"k":"r2","w":523.4,"v":0.56},{"k":"r2","w":525.4,"v":0.51},{"k":"r2","w":526.8,"v":0.56},{"k":"r2","w":528.6,"v":0.55},{"k":"r2","w":530.8,"v":0.53},{"k":"r2","w":532.8,"v":0.51},{"k":"r2","w":534.8,"v":0.52},{"k":"r2","w":537.5,"v":0.48},{"k":"r2","w":541.5,"v":0.445},{"k":"r2","w":545.5,"v":0.42},{"k":"r2","w":549.5,"v":0.4},{"k":"r2","w":553.6,"v":0.375},{"k":"r2","w":557.6,"v":0.345},{"k":"r2","w":560.3,"v":0.33},{"k":"r2","w":563,"v":0.31},{"k":"r2","w":566,"v":0.285},{"k":"r2","w":569.7,"v":0.265},{"k":"r2","w":573.8,"v":0.235},{"k":"r2","w":577.8,"v":0.21},{"k":"r2","w":581.8,"v":0.18},{"k":"r2","w":584.5,"v":0.165},
{"k":"r2","w":586.5,"v":0.155},{"k":"r2","w":587.5,"v":0.13},{"k":"r2","w":588.5,"v":0.127},{"k":"r2","w":589.5,"v":0.122},{"k":"r2","w":590.6,"v":0.129},{"k":"r2","w":592.6,"v":0.113},{"k":"r2","w":595.3,"v":0.098},{"k":"r2","w":597.9,"v":0.083},{"k":"r2","w":600.6,"v":0.071},{"k":"r2","w":603.3,"v":0.064},{"k":"r2","w":605.6,"v":0.059},

{"k":"r1","w":371.5,"v":0.54},{"k":"r1","w":373.5,"v":0.63},{"k":"r1","w":375.5,"v":0.81},{"k":"r1","w":376.8,"v":0.93},{"k":"r1","w":378.1,"v":1.12},{"k":"r1","w":379.5,"v":1.04},{"k":"r1","w":380.8,"v":0.95},{"k":"r1","w":382.1,"v":0.86},{"k":"r1","w":382.8,"v":0.67},{"k":"r1","w":384.1,"v":0.9},{"k":"r1","w":385.5,"v":0.97},{"k":"r1","w":387.5,"v":0.95},{"k":"r1","w":388.8,"v":1.06},{"k":"r1","w":390.2,"v":1.26},{"k":"r1","w":391.5,"v":1.14},{"k":"r1","w":392.6,"v":0.81},{"k":"r1","w":393.4,"v":0.58},{"k":"r1","w":394.3,"v":0.95},{"k":"r1","w":395.7,"v":1.14},{"k":"r1","w":396.8,"v":0.68},{"k":"r1","w":397.7,"v":1.15},{"k":"r1","w":399.2,"v":1.53},
{"k":"r1","w":401,"v":1.82},{"k":"r1","w":402.4,"v":1.67},{"k":"r1","w":403.8,"v":1.78},{"k":"r1","w":405.5,"v":1.65},{"k":"r1","w":407.3,"v":1.8},{"k":"r1","w":409.1,"v":1.69},{"k":"r1","w":410.3,"v":1.5},{"k":"r1","w":411.5,"v":1.8},{"k":"r1","w":413.5,"v":1.74},{"k":"r1","w":415.3,"v":1.78},{"k":"r1","w":417.2,"v":1.67},{"k":"r1","w":419.5,"v":1.73},{"k":"r1","w":421.5,"v":1.61},{"k":"r1","w":424,"v":1.67},{"k":"r1","w":426.6,"v":1.6},{"k":"r1","w":428.6,"v":1.49},{"k":"r1","w":430.3,"v":1.39},{"k":"r1","w":431.5,"v":1.47},{"k":"r1","w":433.3,"v":1.57},{"k":"r1","w":434.8,"v":1.73},{"k":"r1","w":436.2,"v":1.65},{"k":"r1","w":438,"v":1.56},{"k":"r1","w":440,"v":1.71},{"k":"r1","w":442.7,"v":1.67},{"k":"r1","w":445.4,"v":1.71},{"k":"r1","w":448.1,"v":1.69},{"k":"r1","w":450.1,"v":1.78},{"k":"r1","w":452.8,"v":1.63},{"k":"r1","w":455.5,"v":1.75},{"k":"r1","w":458.2,"v":1.71},{"k":"r1","w":461.5,"v":1.78},{"k":"r1","w":464.9,"v":1.71},{"k":"r1","w":467.6,"v":1.67},{"k":"r1","w":470.3,"v":1.71},{"k":"r1","w":473,"v":1.63},{"k":"r1","w":475.6,"v":1.71},{"k":"r1","w":478.3,"v":1.67},
{"k":"r1","w":481,"v":1.66},{"k":"r1","w":483.7,"v":1.59},{"k":"r1","w":485.2,"v":1.47},{"k":"r1","w":486.1,"v":1.4},{"k":"r1","w":487.2,"v":1.51},{"k":"r1","w":489.5,"v":1.56},{"k":"r1","w":491.8,"v":1.46},{"k":"r1","w":494.5,"v":1.43},{"k":"r1","w":497.1,"v":1.34},{"k":"r1","w":499.8,"v":1.25},{"k":"r1","w":502.5,"v":1.17},{"k":"r1","w":505.2,"v":1.13},{"k":"r1","w":507.9,"v":1.05},{"k":"r1","w":510.3,"v":0.98},{"k":"r1","w":512.3,"v":0.9},{"k":"r1","w":514.5,"v":0.83},{"k":"r1","w":515.5,"v":0.78},{"k":"r1","w":516.6,"v":0.72},{"k":"r1","w":518,"v":0.76},{"k":"r1","w":520.7,"v":0.77},{"k":"r1","w":523.4,"v":0.75},{"k":"r1","w":525.4,"v":0.7},{"k":"r1","w":526.8,"v":0.71},{"k":"r1","w":528.6,"v":0.76},{"k":"r1","w":530.8,"v":0.72},{"k":"r1","w":532.8,"v":0.69},{"k":"r1","w":534.8,"v":0.67},{"k":"r1","w":537.5,"v":0.65},{"k":"r1","w":541.5,"v":0.6},{"k":"r1","w":545.5,"v":0.56},{"k":"r1","w":549.5,"v":0.545},{"k":"r1","w":553.6,"v":0.505},{"k":"r1","w":557.6,"v":0.465},{"k":"r1","w":560.3,"v":0.455},{"k":"r1","w":563,"v":0.435},{"k":"r1","w":566,"v":0.4},{"k":"r1","w":569.7,"v":0.36},{"k":"r1","w":573.8,"v":0.32},{"k":"r1","w":577.8,"v":0.29},{"k":"r1","w":581.8,"v":0.25},{"k":"r1","w":584.5,"v":0.22},
{"k":"r1","w":586.5,"v":0.2},{"k":"r1","w":587.5,"v":0.175},{"k":"r1","w":588.5,"v":0.16},{"k":"r1","w":589.5,"v":0.157},{"k":"r1","w":590.6,"v":0.152},{"k":"r1","w":592.6,"v":0.147},{"k":"r1","w":595.3,"v":0.129},{"k":"r1","w":597.9,"v":0.114},{"k":"r1","w":600.6,"v":0.099},{"k":"r1","w":603.3,"v":0.092},{"k":"r1","w":605.6,"v":0.088}
]},
"transform": [{"lookup": "k", "from": {"data": {"values": [
  {"k": "g0", "t": "T9 Z=0.08 D=0"},
  {"k": "b1", "t": "T3 Z=0.00 D=32"}, {"k": "b2", "t": "T3 Z=0.00 D=32"},
  {"k": "d1", "t": "T5 Z=0.00 D=7"}, {"k": "d2", "t": "T5 Z=0.00 D=7"},
  {"k": "c2", "t": "T7 Z=0.50 D=0"},
  {"k": "g2", "t": "T9 Z=0.08 D=0"},
  {"k": "o1", "t": "T11 Z=0.00 D=16"}, {"k": "o2", "t": "T11 Z=0.00 D=16"},
  {"k": "r1", "t": "T13 Z=0.00 D=24"}, {"k": "r2", "t": "T13 Z=0.00 D=24"}
]}, "key": "k", "fields": ["t"]}}],
"mark": {"type": "line", "strokeWidth": 1, "clip": true},
"encoding": {
  "x": {"field": "w", "type": "quantitative", "scale": {"domain": [370, 605.6], "nice": false, "zero": false},
        "axis": {"orient": "bottom", "values": [400, 450, 500, 550, 600], "title": "Wavelength (nm)", "tickSize": -5, "labelPadding": 12, "titleY": 32, "titleBaseline": "alphabetic"}},
  "y": {"field": "v", "type": "quantitative", "scale": {"type": "log", "domain": [0.058, 3.2], "nice": false},
        "axis": {"orient": "left", "values": [0.06, 0.07, 0.08, 0.09, 0.1, 0.2, 0.3, 0.4, 0.5, 0.6, 0.7, 0.8, 0.9, 1, 2, 3],
                 "labelExpr": "datum.value == 1 ? '10⁰' : (datum.value == 0.1 ? '10⁻¹' : '')",
                 "title": "Lu (uW/cm²/sr/nm)", "tickSize": -4, "labelPadding": 15, "titleX": -42, "titleY": 151.5, "titleBaseline": "bottom"}},
  "color": {"field": "t", "type": "nominal",
            "scale": {"domain": ["T3 Z=0.00 D=32", "T5 Z=0.00 D=7", "T7 Z=0.50 D=0", "T9 Z=0.08 D=0", "T11 Z=0.00 D=16", "T13 Z=0.00 D=24"],
                      "range": ["#0000ff", "#0080ff", "#00ffff", "#00c800", "#f29b1f", "#ff0000"]},
            "legend": {"orient": "none", "legendX": 196, "legendY": 172, "title": null, "symbolType": "M-5,0H5", "symbolSize": 125, "symbolStrokeWidth": 1, "labelFontSize": 15, "labelFont": "Liberation Sans", "labelColor": "black", "strokeColor": "black", "fillColor": "white", "padding": 4, "rowPadding": 3.6, "symbolOffset": 28, "labelOffset": 27, "cornerRadius": 0}},
  "detail": {"field": "k"}
}
},
{
"data": {"values": [{"w": 450, "v": 1}]},
"mark": {"type": "point", "opacity": 0},
"encoding": {
  "x": {"field": "w", "type": "quantitative", "scale": {"domain": [370, 605.6], "nice": false, "zero": false},
        "axis": {"orient": "top", "values": [400, 450, 500, 550, 600], "labels": false, "title": null, "tickSize": -5}},
  "y": {"field": "v", "type": "quantitative", "scale": {"type": "log", "domain": [0.058, 3.2], "nice": false},
        "axis": {"orient": "right", "values": [0.06, 0.07, 0.08, 0.09, 0.1, 0.2, 0.3, 0.4, 0.5, 0.6, 0.7, 0.8, 0.9, 1, 2, 3], "labels": false, "title": null, "tickSize": -4}}
}
}
]
}
